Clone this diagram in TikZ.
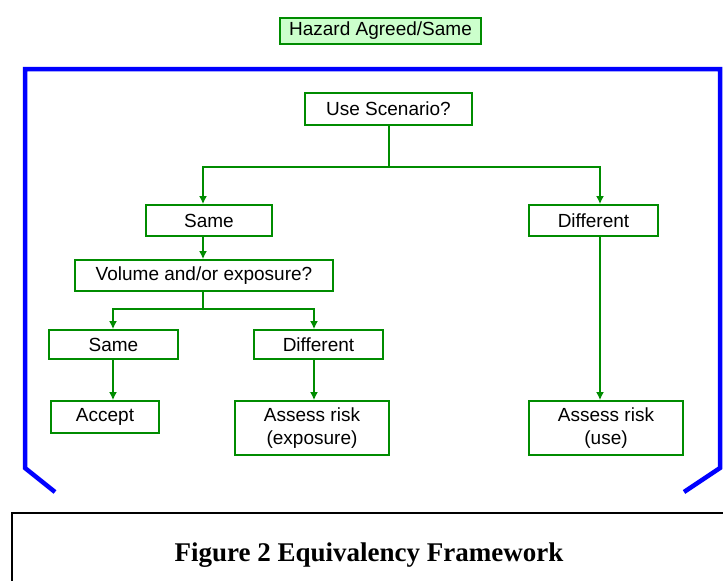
\documentclass[tikz,border=0pt]{standalone}
\usepackage{fontspec}
\setmainfont{Liberation Serif}
\newfontfamily\arialfont{Liberation Sans}
\usetikzlibrary{arrows.meta}
\definecolor{boxgreen}{RGB}{0,140,0}
\definecolor{lightgreen}{RGB}{204,255,204}
\definecolor{bracketblue}{RGB}{0,0,255}
\begin{document}
\begin{tikzpicture}[x=1pt,y=-1pt,
  fbox/.style={draw=boxgreen,line width=1.8pt,fill=white,inner sep=0pt,font=\arialfont\fontsize{19}{23}\selectfont,align=center},
  conn/.style={draw=boxgreen,line width=1.8pt},
  arr/.style={conn,-{Latex[length=8pt,width=8pt]}},
  bracket/.style={draw=bracketblue,line width=4.5pt}
]
\useasboundingbox (0,0) rectangle (723,581);
% top label
\node[fbox,fill=lightgreen,minimum width=201pt,minimum height=26pt] (haz) at (380.5,31) {Hazard Agreed/Same};
% blue bracket
\coordinate (bl) at (55,492);
\coordinate (br) at (684,492);
\draw[bracket,line join=miter] (bl) -- (25,468) -- (25,69) -- (720,69) -- (720,468) -- (br);
% nodes
\node[fbox,minimum width=167pt,minimum height=32pt] (use) at (388.5,109) {Use Scenario?};
\node[fbox,minimum width=126pt,minimum height=31pt] (same1) at (209,220.5) {Same};
\node[fbox,minimum width=129pt,minimum height=31pt] (diff1) at (593.5,220.5) {Different};
\node[fbox,minimum width=258pt,minimum height=31pt] (vol) at (204,275.5) {Volume and/or exposure?};
\node[fbox,minimum width=129pt,minimum height=29pt] (same2) at (113.5,344.5) {Same};
\node[fbox,minimum width=129pt,minimum height=29pt] (diff2) at (318.5,344.5) {Different};
\node[fbox,minimum width=108pt,minimum height=32pt] (acc) at (105,417) {Accept};
\node[fbox,minimum width=154pt,minimum height=54pt] (arexp) at (312,428) {Assess risk\\(exposure)};
\node[fbox,minimum width=154pt,minimum height=54pt] (aruse) at (606,428) {Assess risk\\(use)};
% connectors
\coordinate (j1) at (389,167);
\draw[conn] (use.south -| j1) -- (j1);
\draw[arr] (j1) -| (same1.north -| 203,0);
\draw[arr] (j1) -| (diff1.north -| 600,0);
\draw[arr] (same1.south -| 203,0) -- (vol.north -| 203,0);
\coordinate (j2) at (203,309);
\draw[conn] (vol.south -| j2) -- (j2);
\draw[arr] (j2) -| (same2.north -| 113,0);
\draw[arr] (j2) -| (diff2.north -| 314,0);
\draw[arr] (same2.south -| 113,0) -- (acc.north -| 113,0);
\draw[arr] (diff2.south -| 314,0) -- (arexp.north -| 314,0);
\draw[arr] (diff1.south -| 600,0) -- (aruse.north -| 600,0);
% caption
\node[draw=black,line width=2pt,minimum width=720pt,minimum height=80pt,anchor=north west,inner sep=0pt] (cap) at (11,512) {};
\node[font=\bfseries\fontsize{27}{32}\selectfont] (captxt) at (369,555) {Figure 2 Equivalency Framework};
\end{tikzpicture}
\end{document}
